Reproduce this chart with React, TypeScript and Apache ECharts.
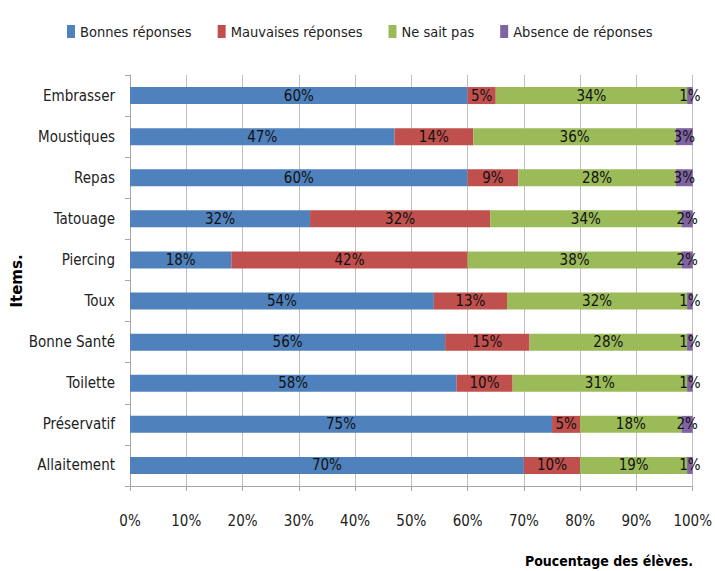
import React, { useEffect, useRef } from "react";
import * as echarts from "echarts";

const categories = ["Embrasser", "Moustiques", "Repas", "Tatouage", "Piercing", "Toux", "Bonne Santé", "Toilette", "Préservatif", "Allaitement"];
const bonnes = [60, 47, 60, 32, 18, 54, 56, 58, 75, 70];
const mauvaises = [5, 14, 9, 32, 42, 13, 15, 10, 5, 10];
const neSaitPas = [34, 36, 28, 34, 38, 32, 28, 31, 18, 19];
const absence = [1, 3, 3, 2, 2, 1, 1, 1, 2, 1];
const seriesNames = ["Bonnes réponses", "Mauvaises réponses", "Ne sait pas", "Absence de réponses"];
const colors = ["#4F81BD", "#C0504D", "#9BBB59", "#8064A2"];

const FONT = "'DejaVu Sans Condensed', 'Liberation Sans Narrow', sans-serif";

export default function App() {
  const ref = useRef<HTMLDivElement>(null);
  useEffect(() => {
    if (!ref.current) return;
    const chart = echarts.init(ref.current, null, { renderer: "svg" });
    const data = [bonnes, mauvaises, neSaitPas, absence];
    chart.setOption({
      animation: false,
      color: colors,
      legend: {
        top: 19,
        left: 62,
        itemWidth: 8,
        itemHeight: 13,
        itemGap: 26,
        icon: "rect",
        textStyle: { fontFamily: FONT, fontSize: 14.5, color: "#222" },
        data: seriesNames,
      },
      grid: { left: 130, right: 16, top: 75, bottom: 85, containLabel: false },
      xAxis: {
        type: "value",
        min: 0,
        max: 100,
        interval: 10,
        axisLabel: { formatter: "{value}%", fontFamily: FONT, fontSize: 15, color: "#222", margin: 27 },
        axisLine: { show: true, lineStyle: { color: "#A6A6A6" } },
        axisTick: { show: true, length: 5, lineStyle: { color: "#A6A6A6" } },
        splitLine: { show: true, lineStyle: { color: "#BFBFBF" } },
      },
      yAxis: {
        type: "category",
        inverse: true,
        data: categories,
        axisLabel: { fontFamily: FONT, fontSize: 15, color: "#222", margin: 15 },
        axisLine: { show: true, lineStyle: { color: "#A6A6A6" } },
        axisTick: { show: true, length: 5, lineStyle: { color: "#A6A6A6" } },
      },
      graphic: [
        {
          type: "text",
          x: 17,
          y: 281,
          rotation: Math.PI / 2,
          style: { text: "Items.", fontFamily: "'DejaVu Sans', sans-serif", fontWeight: "bold", fontSize: 15, fill: "#000", align: "center", verticalAlign: "middle" },
        },
        {
          type: "text",
          x: 609,
          y: 561,
          style: { text: "Poucentage des élèves.", fontFamily: FONT, fontWeight: "bold", fontSize: 14, fill: "#000", align: "center", verticalAlign: "middle" },
        },
      ],
      series: seriesNames.map((name, i) => ({
        name,
        type: "bar",
        stack: "total",
        barWidth: 17,
        data: data[i],
        itemStyle: { color: colors[i] },
        label: {
          show: true,
          position: "inside",
          formatter: "{c}%",
          fontFamily: FONT,
          fontSize: 15,
          color: "#111",
        },
      })),
    });
    return () => chart.dispose();
  }, []);
  return <div ref={ref} style={{ width: 715, height: 571, position: "absolute", left: 0, top: 0 }} />;
}
